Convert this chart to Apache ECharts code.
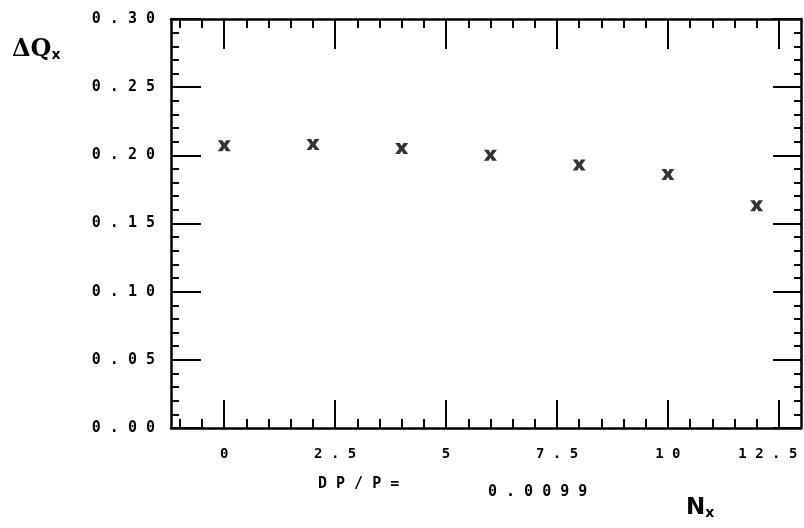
<!DOCTYPE html>
<html><head><meta charset="utf-8">
<script src="https://cdn.jsdelivr.net/npm/echarts@6/dist/echarts.min.js"></script>
<style>html,body{margin:0;padding:0;background:#fff}#c{width:804px;height:528px}</style>
</head><body><div id="c"></div>
<script>
// ---- data ----
const nx = [0, 2, 4, 6, 8, 10, 12];
const dQx = [0.207, 0.208, 0.205, 0.200, 0.193, 0.186, 0.163];
const xMajorTicks = [0, 2.5, 5, 7.5, 10, 12.5];
const xTickLabels = ['0', '2.5', '5', '7.5', '10', '12.5'];
const xMinorTicks = [-1, -0.5, 0.5, 1, 1.5, 2, 3, 3.5, 4, 4.5, 5.5, 6, 6.5, 7, 8, 8.5, 9, 9.5, 10.5, 11, 11.5, 12];
const yTickLabels = ['0.00', '0.05', '0.10', '0.15', '0.20', '0.25', '0.30'];
const dpLabel = 'DP/P=';
const dpValue = '0.0099';

const spaced = s => s.split('').join(' ');
const monoFont = { fontFamily: 'DejaVu Sans Mono', fontWeight: 'bold', fontSize: 14, color: '#000' };
const lineS = { color: '#000', width: 2.5 };
const tickS = { color: '#000', width: 2 };

const xBase = { type: 'value', min: -1.2, max: 13, splitLine: { show: false }, gridIndex: 0 };
const yBase = { type: 'value', min: 0, max: 0.3, interval: 0.05, splitLine: { show: false }, gridIndex: 0 };

const option = {
  animation: false,
  backgroundColor: '#fff',
  grid: { left: 171, right: 3, top: 19, bottom: 100, containLabel: false, outerBoundsMode: 'none' },
  xAxis: [
    Object.assign({}, xBase, {
      position: 'bottom',
      axisLine: { show: true, onZero: false, lineStyle: lineS },
      axisTick: { show: true, inside: true, length: 28, customValues: xMajorTicks, lineStyle: tickS },
      axisLabel: Object.assign({ show: true, customValues: xMajorTicks, margin: 19,
        formatter: v => {
          const i = xMajorTicks.indexOf(v);
          if (i < 0) return '';
          return i === xMajorTicks.length - 1 ? '{r|' + spaced(xTickLabels[i]) + '}' : spaced(xTickLabels[i]);
        },
        rich: { r: { fontFamily: 'DejaVu Sans Mono', fontWeight: 'bold', fontSize: 14, color: '#000', padding: [0, 22, 0, 0] } }
      }, monoFont)
    }),
    Object.assign({}, xBase, {
      position: 'bottom',
      axisLine: { show: false, onZero: false },
      axisTick: { show: true, inside: true, length: 9, customValues: xMinorTicks, lineStyle: tickS },
      axisLabel: { show: false }
    }),
    Object.assign({}, xBase, {
      position: 'top',
      axisLine: { show: true, onZero: false, lineStyle: lineS },
      axisTick: { show: true, inside: true, length: 30, customValues: xMajorTicks, lineStyle: tickS },
      axisLabel: { show: false }
    }),
    Object.assign({}, xBase, {
      position: 'top',
      axisLine: { show: false, onZero: false },
      axisTick: { show: true, inside: true, length: 9, customValues: xMinorTicks, lineStyle: tickS },
      axisLabel: { show: false }
    })
  ],
  yAxis: [
    Object.assign({}, yBase, {
      position: 'left',
      axisLine: { show: true, onZero: false, lineStyle: lineS },
      axisTick: { show: true, inside: true, length: 30, lineStyle: tickS },
      minorTick: { show: true, splitNumber: 5, length: 8, lineStyle: tickS },
      axisLabel: Object.assign({ show: true, margin: 16,
        formatter: v => spaced(yTickLabels[Math.round(v / 0.05)] || '') }, monoFont, { fontSize: 15 })
    }),
    Object.assign({}, yBase, {
      position: 'right',
      axisLine: { show: true, onZero: false, lineStyle: lineS },
      axisTick: { show: true, inside: true, length: 28, lineStyle: tickS },
      minorTick: { show: true, splitNumber: 5, length: 7, lineStyle: tickS },
      axisLabel: { show: false }
    })
  ],
  series: [{
    type: 'scatter',
    xAxisIndex: 0, yAxisIndex: 0,
    data: nx.map((x, i) => [x, dQx[i]]),
    symbol: 'path://M0,0H3.6L5,2.8L6.4,0H10L6.9,5L10,10H6.4L5,7.2L3.6,10H0L3.1,5Z',
    symbolSize: [13, 11],
    itemStyle: { color: '#000' }
  }],
  graphic: [
    { type: 'text', left: 12, top: 38, style: {
        text: '{a|ΔQ}{b|x}',
        rich: {
          a: { fontFamily: 'DejaVu Serif', fontWeight: 'bold', fontSize: 24, fill: '#000' },
          b: { fontFamily: 'DejaVu Sans', fontWeight: 'bold', fontSize: 14, fill: '#000', padding: [11, 0, 0, 0] }
        } } },
    { type: 'text', left: 318, top: 477, style: { text: spaced(dpLabel), font: 'bold 15px "DejaVu Sans Mono"', fill: '#000' } },
    { type: 'text', left: 488, top: 485, style: { text: spaced(dpValue), font: 'bold 15px "DejaVu Sans Mono"', fill: '#000' } },
    { type: 'text', left: 686, top: 497, style: {
        text: '{a|N}{b|x}',
        rich: {
          a: { fontFamily: 'DejaVu Sans', fontWeight: 'bold', fontSize: 23, fill: '#000' },
          b: { fontFamily: 'DejaVu Sans', fontWeight: 'bold', fontSize: 14, fill: '#000', padding: [10, 0, 0, 0] }
        } } }
  ]
};
echarts.init(document.getElementById('c')).setOption(option);
</script>
</body></html>
